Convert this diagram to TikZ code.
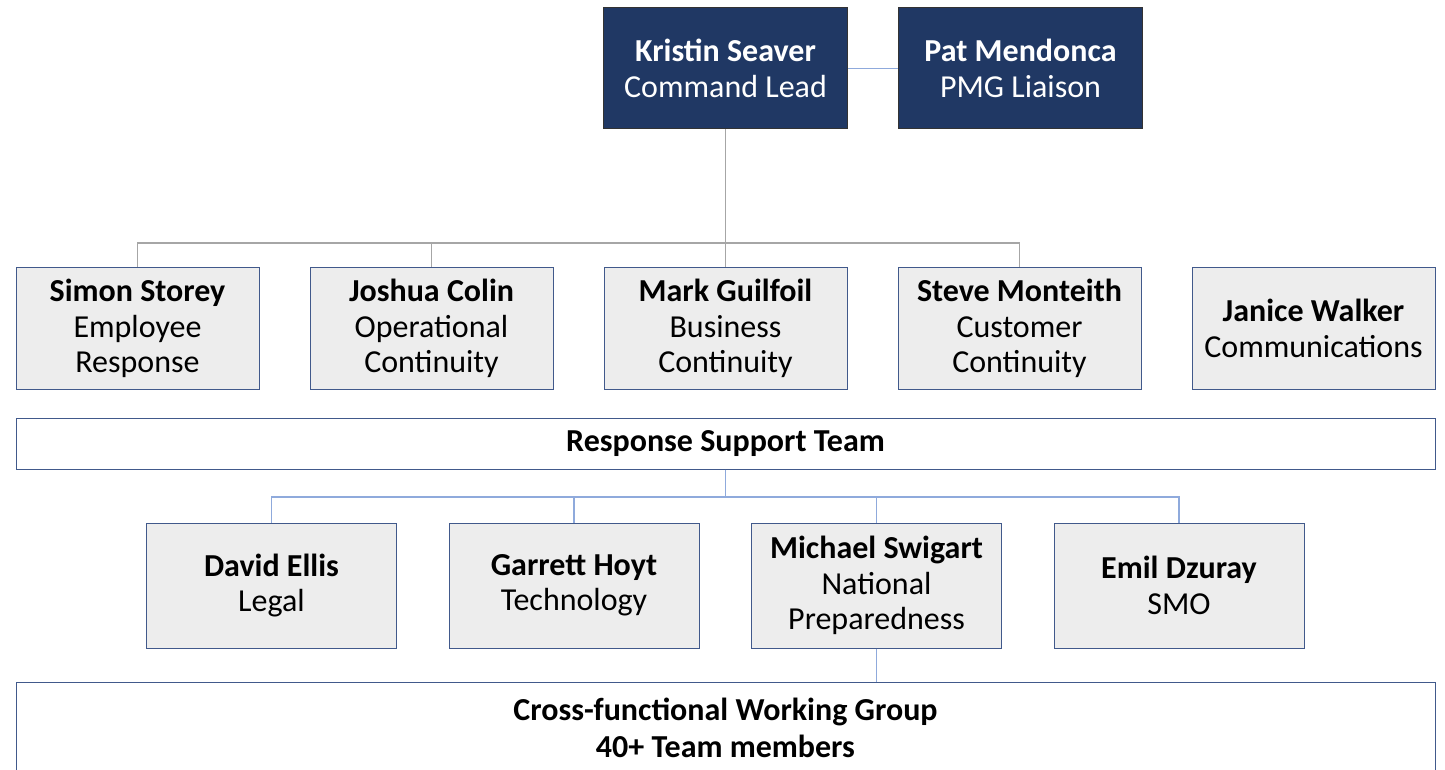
\documentclass[tikz,border=0pt]{standalone}
\usepackage{fontspec}
\setmainfont{Carlito}
\usetikzlibrary{positioning}
\definecolor{navy}{HTML}{203864}
\definecolor{boxgray}{HTML}{EDEDED}
\definecolor{edgeblue}{HTML}{41598B}
\definecolor{lineblue}{HTML}{8FAADC}
\definecolor{linegray}{HTML}{A6A6A6}

\begin{document}
\begin{tikzpicture}[x=0.5pt, y=-0.5pt, font=\fontsize{16}{17.75}\selectfont,
                    lead node/.style={rectangle,draw=black!80,fill=navy,text=white,
                      minimum width=122pt,minimum height=60.5pt,align=center,line width=0.5pt},
                    role node/.style={rectangle,draw=edgeblue,fill=boxgray,
                      minimum width=121.5pt,minimum height=60.5pt,align=center,line width=0.5pt},
                    support node/.style={rectangle,draw=edgeblue,fill=boxgray,
                      minimum width=125pt,minimum height=62.5pt,align=center,line width=0.5pt},
                    team node/.style={rectangle,draw=edgeblue,fill=white,
                      minimum width=709.5pt,align=center,line width=0.5pt},
                    gray link/.style={draw=linegray,line width=0.75pt},
                    blue link/.style={draw=lineblue,line width=0.75pt}]

  \useasboundingbox (0,0) rectangle (1445,770);

  % command
  \node[lead node] (kristin) at (725.5,68.5) {\textbf{Kristin Seaver}\\Command Lead};
  \node[lead node] (pat) [right=25pt of kristin] {\textbf{Pat Mendonca}\\PMG Liaison};

  % leads
  \node[role node] (simon) at (137.5,328.5) {\textbf{Simon Storey}\\Employee\\Response};
    \node[role node] (joshua) [right=25pt of simon] {\textbf{Joshua Colin}\\Operational\\Continuity};
      \node[role node] (mark) [right=25pt of joshua] {\textbf{Mark Guilfoil}\\Business\\Continuity};
        \node[role node] (steve) [right=25pt of mark] {\textbf{Steve Monteith}\\Customer\\Continuity};
          \node[role node] (janice) [right=25pt of steve] {\textbf{Janice Walker}\\Communications};

  \node[team node,minimum height=25.5pt] (support) at (725.5,443.5) {\textbf{Response Support Team}};

  % support
  \node[support node] (david) at (271.5,585.5) {\textbf{David Ellis}\\Legal};
    \node[support node] (garrett) [right=25.75pt of david] {\textbf{Garrett Hoyt}\\Technology};
      \node[support node] (michael) [right=25.75pt of garrett] {\textbf{Michael Swigart}\\National\\Preparedness};
        \node[support node] (emil) [right=25.75pt of michael] {\textbf{Emil Dzuray}\\SMO};

  \node[team node,minimum height=46pt] (cross) at (725.5,728) {\textbf{Cross-functional Working Group}\\[1pt]\textbf{40+ Team members}};

  \coordinate (topbus) at (725.5,243);
  \coordinate (midbus) at (725.5,497);

  \path[blue link] (kristin) edge (pat);
  \path[gray link] (kristin) edge (topbus);
  \foreach \n in {simon,joshua,mark,steve}
    \draw[gray link] (topbus) -| (\n.north);

  \path[blue link] (support) edge (midbus);
  \foreach \n in {david,garrett,michael,emil}
    \draw[blue link] (midbus) -| (\n.north);
  \draw[blue link] (michael.south) -- (michael.south |- cross.north);

\end{tikzpicture}
\end{document}
